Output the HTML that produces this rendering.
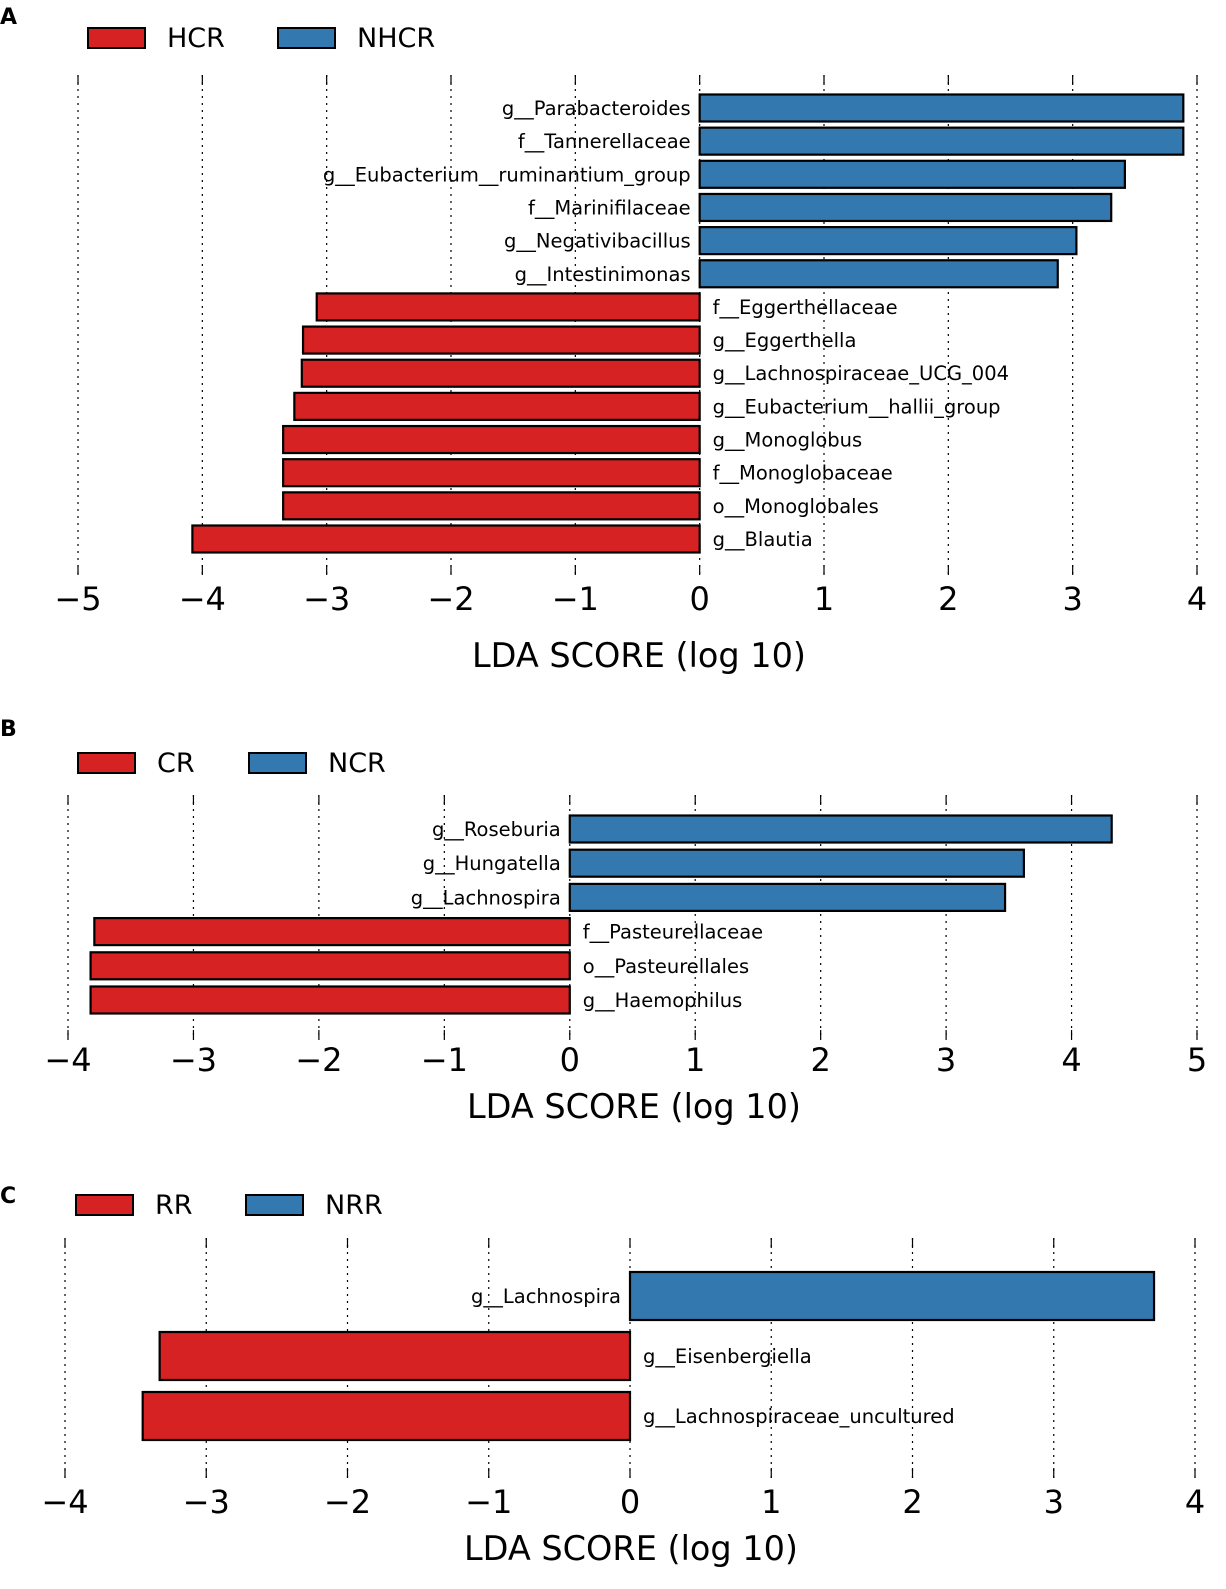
<!DOCTYPE html>
<html><head><meta charset="utf-8"><style>
body{margin:0;background:#fff}
svg{display:block;font-family:"DejaVu Sans","Liberation Sans",sans-serif}
</style></head><body>
<svg id="chart" width="1226" height="1589" viewBox="0 0 1226 1589" xmlns="http://www.w3.org/2000/svg">
<text x="0" y="24" font-size="22" font-weight="bold">A</text>
<text x="0" y="736" font-size="22" font-weight="bold">B</text>
<text x="0" y="1203" font-size="22" font-weight="bold">C</text>
</svg>
<script>
const aCats=["g__Parabacteroides","f__Tannerellaceae","g__Eubacterium__ruminantium_group","f__Marinifilaceae","g__Negativibacillus","g__Intestinimonas","f__Eggerthellaceae","g__Eggerthella","g__Lachnospiraceae_UCG_004","g__Eubacterium__hallii_group","g__Monoglobus","f__Monoglobaceae","o__Monoglobales","g__Blautia"];
const aVals=[3.89,3.89,3.42,3.31,3.03,2.88,-3.08,-3.19,-3.20,-3.26,-3.35,-3.35,-3.35,-4.08];
const aTicks=[-5,-4,-3,-2,-1,0,1,2,3,4];
const aLegend=["HCR","NHCR"];
const bCats=["g__Roseburia","g__Hungatella","g__Lachnospira","f__Pasteurellaceae","o__Pasteurellales","g__Haemophilus"];
const bVals=[4.32,3.62,3.47,-3.79,-3.82,-3.82];
const bTicks=[-4,-3,-2,-1,0,1,2,3,4,5];
const bLegend=["CR","NCR"];
const cCats=["g__Lachnospira","g__Eisenbergiella","g__Lachnospiraceae_uncultured"];
const cVals=[3.71,-3.33,-3.45];
const cTicks=[-4,-3,-2,-1,0,1,2,3,4];
const cLegend=["RR","NRR"];

const NS="http://www.w3.org/2000/svg";
const svg=document.getElementById('chart');
function mk(tag,attrs,parent,txt){const e=document.createElementNS(NS,tag);for(const k in attrs)e.setAttribute(k,attrs[k]);if(txt!==undefined)e.textContent=txt;(parent||svg).appendChild(e);return e;}
const RED="#d62222",BLUE="#3478b0";
function panel(id,cats,vals,ticks,legend,cfg){
  const g=mk('g',{});
  
  
  const x0=cfg.x0,x1=cfg.x1,t0=ticks[0],t1=ticks[ticks.length-1];
  const sx=v=>x0+(v-t0)*(x1-x0)/(t1-t0);
  const ystep=(cfg.yLast-cfg.yFirst)/Math.max(1,cats.length-1);
  const sy=i=>cfg.yFirst+i*ystep;
  legend.forEach((l,i)=>{
    const lx=cfg.legX[i];
    const r=mk('rect',{x:lx,y:cfg.legY,width:57,height:20,fill:i?BLUE:RED,stroke:'#000','stroke-width':2},g);
    
    
    const t=mk('text',{x:lx+79,y:cfg.legY+19,'font-size':27},g,l);
    
    
  });
  ticks.forEach(tv=>{
    const x=sx(tv);
    const gl=mk('line',{x1:x,x2:x,y1:cfg.gTop,y2:cfg.gBot,stroke:'#000','stroke-width':1.2,'stroke-dasharray':'2,5'},g);
    
    
    mk('line',{x1:x,x2:x,y1:cfg.gTop,y2:cfg.gTop+10,stroke:'#000','stroke-width':1.2},g);
    mk('line',{x1:x,x2:x,y1:cfg.gBot-10,y2:cfg.gBot,stroke:'#000','stroke-width':1.2},g);
    const lab=(tv<0?'\u2212'+(-tv):''+tv);
    const tl=mk('text',{x:x,y:cfg.tickY,'font-size':32,'text-anchor':'middle'},g,lab);
    
    
  });
  cats.forEach((c,i)=>{
    const v=vals[i],y=sy(i),z=sx(0),xv=sx(v);
    const b=mk('rect',{x:Math.min(z,xv),y:y-cfg.bh/2,width:Math.abs(xv-z),height:cfg.bh,fill:v>0?BLUE:RED,stroke:'#000','stroke-width':2.2},g);
    
    
    const t=mk('text',{x:v>0?z-9:z+13,y:y+7,'font-size':19.5,'text-anchor':v>0?'end':'start'},g,c);
    
    
  });
  const at=mk('text',{x:cfg.titleX,y:cfg.titleY,'font-size':33.5,'text-anchor':'middle'},g,'LDA SCORE (log 10)');
  
  
}
panel('a',aCats,aVals,aTicks,aLegend,{x0:78,x1:1197,yFirst:108,yLast:539,bh:27,gTop:75,gBot:575,tickY:610,titleX:639,titleY:667,legX:[88,278],legY:28});
panel('b',bCats,bVals,bTicks,bLegend,{x0:68,x1:1197,yFirst:829,yLast:1000,bh:27,gTop:795,gBot:1040,tickY:1071,titleX:634,titleY:1118,legX:[78,249],legY:753});
panel('c',cCats,cVals,cTicks,cLegend,{x0:65,x1:1195,yFirst:1296,yLast:1416,bh:48,gTop:1238,gBot:1478,tickY:1513,titleX:631,titleY:1560,legX:[76,246],legY:1195});
</script>
</body></html>
